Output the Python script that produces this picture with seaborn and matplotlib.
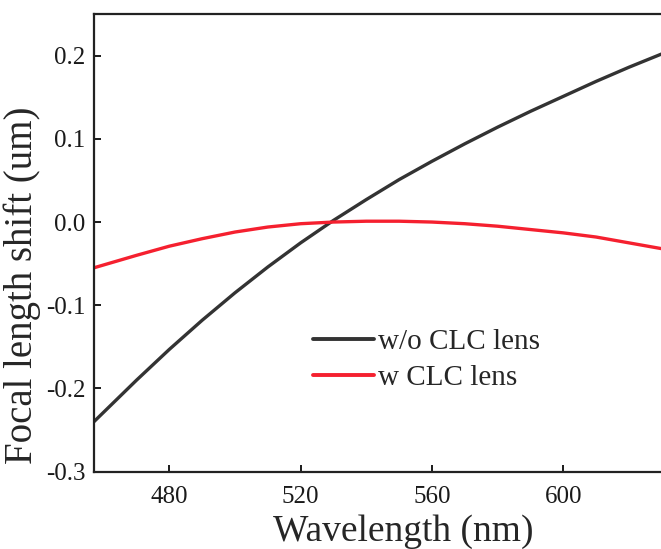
import numpy as np
import pandas as pd
import matplotlib
matplotlib.use("Agg")
import matplotlib.pyplot as plt
import seaborn as sns

wavelength = [457, 470, 480, 490, 500, 510, 520, 530, 540, 550, 560, 570, 580, 590, 600, 610, 620, 630]
without_clc = [-0.240, -0.190, -0.153, -0.118, -0.085, -0.054, -0.025, 0.002, 0.027, 0.051,
               0.073, 0.094, 0.114, 0.133, 0.151, 0.169, 0.186, 0.202]
with_clc = [-0.055, -0.040, -0.029, -0.020, -0.012, -0.006, -0.002, 0.000, 0.001, 0.001,
            0.000, -0.002, -0.005, -0.009, -0.013, -0.018, -0.025, -0.032]
series_names = ["w/o CLC lens", "w CLC lens"]
series_colors = ["#333333", "#f5202f"]
x_ticks = [480, 520, 560, 600]
y_ticks = [-0.3, -0.2, -0.1, 0.0, 0.1, 0.2]

df = pd.DataFrame({
    "Wavelength": wavelength * 2,
    "Shift": without_clc + with_clc,
    "Series": [series_names[0]] * len(wavelength) + [series_names[1]] * len(wavelength),
})

sns.set_style("ticks")
plt.rcParams["font.family"] = ["Liberation Serif", "DejaVu Serif"]
plt.rcParams["axes.unicode_minus"] = False

fig = plt.figure(figsize=(6.61, 5.49), dpi=100)
ax = fig.add_axes([0.142, 0.1408, 1.011 - 0.142, 0.9745 - 0.1408])

sns.lineplot(data=df, x="Wavelength", y="Shift", hue="Series", palette=series_colors,
             linewidth=2.4, ax=ax, legend=True)

ax.set_xlim(457, 632)
ax.set_ylim(-0.3, 0.25)
ax.set_xticks(x_ticks)
ax.set_yticks(y_ticks)
ax.set_yticklabels([f"{v:.1f}" for v in y_ticks])
ax.tick_params(direction="in", length=5, width=1.4, labelsize=18, colors="#1a1a1a")
ax.tick_params(axis="x", pad=10)
ax.tick_params(axis="y", pad=6)
for s in ax.spines.values():
    s.set_linewidth(1.6)
    s.set_color("#222222")

ax.set_xlabel("Wavelength (nm)", fontsize=27)
ax.set_ylabel("Focal length shift (um)", fontsize=28)
ax.xaxis.set_label_coords(0.538, -0.094)
ax.yaxis.set_label_coords(-0.092, 0.408)

leg = ax.legend(loc="upper left", bbox_to_anchor=(0.335, 0.37), frameon=False,
                fontsize=21, handlelength=2.1, handletextpad=0.15, labelspacing=0.33)
for line in leg.get_lines():
    line.set_linewidth(2.8)

fig.savefig("out.png", dpi=100)
